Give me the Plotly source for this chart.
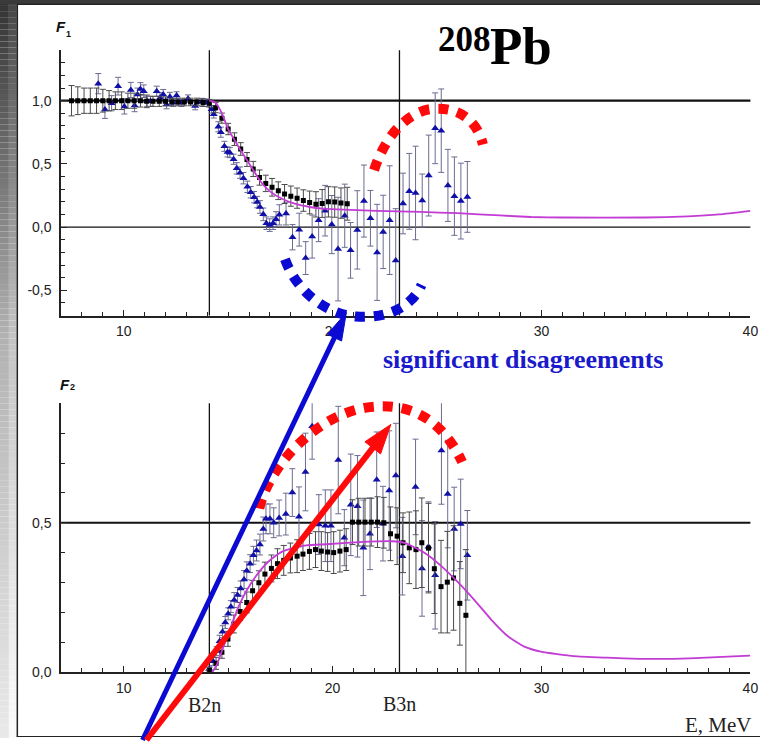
import plotly.graph_objects as go

# ---------------- data ----------------
# F1 panel, black squares
f1_black_E = [7.5, 7.8, 8.1, 8.4, 8.7, 9.0, 9.3, 9.6, 9.9, 10.2, 10.5, 10.8, 11.1, 11.4, 11.7,
              12.0, 12.3, 12.6, 12.9, 13.2, 13.5, 13.8, 14.1, 14.4, 14.7, 15.0, 15.3, 15.6,
              15.9, 16.2, 16.5, 16.8, 17.1, 17.4, 17.7, 18.0, 18.3, 18.6, 18.9, 19.2, 19.5,
              19.8, 20.1, 20.4, 20.7]
f1_black = [1.0, 1.0, 1.0, 1.0, 1.0, 1.0, 1.0, 1.0, 1.0, 1.0, 1.0, 1.0, 0.995, 0.995, 0.995,
            0.995, 0.99, 0.99, 0.99, 0.99, 0.99, 0.985, 0.98, 0.945, 0.862, 0.776, 0.696, 0.618,
            0.535, 0.46, 0.392, 0.346, 0.315, 0.288, 0.262, 0.245, 0.229, 0.21, 0.195, 0.18,
            0.187, 0.2, 0.198, 0.19, 0.185]
f1_black_err = [0.12, 0.11, 0.1, 0.1, 0.1, 0.09, 0.08, 0.07, 0.07, 0.06, 0.06, 0.05, 0.05, 0.04,
                0.04, 0.035, 0.03, 0.03, 0.03, 0.03, 0.03, 0.03, 0.03, 0.04, 0.04, 0.045, 0.05,
                0.05, 0.055, 0.06, 0.06, 0.065, 0.07, 0.07, 0.075, 0.08, 0.08, 0.085, 0.09, 0.1,
                0.11, 0.12, 0.12, 0.12, 0.13]

# F1 panel, blue triangles
f1_blue_E = [8.78, 9.10, 9.42, 9.73, 10.03, 10.34, 10.52, 10.66, 10.80, 10.96, 11.12, 11.28,
             11.58, 11.74, 11.89, 12.05, 12.21, 12.37, 12.53, 12.76, 13.08, 13.42, 13.74, 13.99,
             14.21, 14.31, 14.53, 14.65, 14.82, 14.97, 15.08, 15.26, 15.41, 15.57, 15.73, 15.92,
             16.08, 16.24, 16.39, 16.52, 16.68, 16.83, 16.99, 17.15, 17.29, 17.45, 17.77, 18.08,
             18.40, 18.71, 19.02, 19.33, 19.64, 19.96, 20.26, 20.58, 20.86, 21.18, 21.50, 21.81,
             22.13, 22.42, 22.73, 23.02, 23.37, 23.67, 23.97, 24.29, 24.60, 24.91, 25.20, 25.52,
             25.83, 26.14, 26.45]
f1_blue = [1.135, 0.93, 0.98, 1.115, 0.955, 1.085, 0.963, 1.05, 1.093, 1.075, 0.995, 0.995,
           1.075, 1.023, 1.049, 0.971, 1.031, 0.984, 1.041, 0.984, 1.016, 0.958, 0.989, 0.984,
           0.932, 0.893, 0.794, 0.751, 0.639, 0.595, 0.589, 0.537, 0.465, 0.431, 0.387, 0.319,
           0.276, 0.237, 0.198, 0.159, 0.101, 0.031, 0.016, 0.031, 0.062, 0.097, 0.107, -0.08,
           -0.02, -0.245, -0.075, 0.055, 0.13, 0.02, -0.174, 0.09, -0.184, -0.022, 0.206, 0.07,
           -0.2, -0.038, 0.055, -0.264, 0.187, 0.283, 0.27, 0.21, 0.408, 0.782, 0.763, 0.33,
           0.245, 0.206, 0.239]
f1_blue_err = [0.08, 0.07, 0.06, 0.07, 0.06, 0.06, 0.05, 0.05, 0.05, 0.05, 0.04, 0.04,
               0.04, 0.04, 0.04, 0.035, 0.035, 0.03, 0.03, 0.03, 0.03, 0.03, 0.03, 0.03,
               0.03, 0.03, 0.04, 0.04, 0.04, 0.04, 0.04, 0.04, 0.045, 0.045, 0.045, 0.045,
               0.045, 0.045, 0.045, 0.05, 0.05, 0.05, 0.05, 0.05, 0.06, 0.08, 0.09, 0.1,
               0.13, 0.13, 0.17, 0.17, 0.2, 0.23, 0.41, 0.25, 0.22, 0.31, 0.285, 0.22,
               0.38, 0.29, 0.43, 0.41, 0.24, 0.3, 0.37, 0.21, 0.32, 0.28, 0.33, 0.285,
               0.31, 0.3, 0.28]

# F1 theory curve (magenta)
f1_theory_E = [14.1, 14.4, 14.7, 15.0, 15.3, 15.6, 16.1, 16.55, 17.0, 17.65, 18.3, 18.9, 19.55,
               20.2, 22.1, 24.2, 26.0, 28.0, 29.5, 31.0, 35.0, 37.0, 38.5, 40.0]
f1_theory = [1.0, 0.985, 0.90, 0.776, 0.69, 0.607, 0.478, 0.361, 0.283, 0.218, 0.179, 0.159,
             0.146, 0.14, 0.128, 0.12, 0.11, 0.092, 0.08, 0.076, 0.076, 0.085, 0.1, 0.128]

# F2 panel, black squares
f2_black_E = [14.1, 14.42, 14.70, 14.99, 15.27, 15.57, 15.89, 16.17, 16.47, 16.76, 17.07, 17.36,
              17.66, 17.98, 18.30, 18.58, 18.89, 19.18, 19.46, 19.76, 20.05, 20.35, 20.65, 20.95,
              21.25, 21.55, 21.85, 22.15, 22.45, 22.77, 23.09, 23.37, 23.67, 23.99, 24.27, 24.59,
              24.87, 25.19, 25.49, 25.79, 26.09, 26.38]
f2_black = [0.005, 0.029, 0.066, 0.111, 0.161, 0.203, 0.233, 0.272, 0.299, 0.328, 0.347, 0.363,
            0.374, 0.382, 0.388, 0.395, 0.404, 0.41, 0.405, 0.402, 0.40, 0.405, 0.41, 0.502,
            0.502, 0.502, 0.502, 0.502, 0.50, 0.463, 0.455, 0.433, 0.416, 0.41, 0.433, 0.415,
            0.346, 0.286, 0.301, 0.315, 0.23, 0.19]
f2_black_err = [0.01, 0.02, 0.02, 0.025, 0.03, 0.03, 0.035, 0.035, 0.04, 0.04, 0.045, 0.05,
                0.05, 0.05, 0.055, 0.055, 0.06, 0.06, 0.065, 0.065, 0.07, 0.07, 0.07, 0.075,
                0.08, 0.08, 0.08, 0.085, 0.085, 0.09, 0.095, 0.1, 0.12, 0.13, 0.15, 0.15,
                0.15, 0.155, 0.17, 0.175, 0.14, 0.22]

# F2 panel, blue triangles
f2_blue_E = [14.1, 14.28, 14.45, 14.59, 14.73, 14.86, 15.00, 15.13, 15.29, 15.45, 15.60, 15.76,
             15.89, 16.05, 16.21, 16.36, 16.52, 16.68, 16.81, 17.0, 17.18, 17.44, 17.76, 18.07,
             18.39, 18.70, 19.02, 19.34, 19.65, 19.92, 20.27, 20.56, 20.87, 21.19, 21.47, 21.79,
             22.11, 22.41, 22.71, 23.03, 23.34, 23.97, 24.28, 24.59, 24.91, 25.21, 25.51, 25.82,
             26.13, 26.45]
f2_blue = [0.01, 0.036, 0.07, 0.103, 0.135, 0.166, 0.195, 0.219, 0.241, 0.258, 0.28, 0.31,
           0.339, 0.363, 0.391, 0.407, 0.427, 0.479, 0.513, 0.513, 0.50, 0.516, 0.529, 0.601,
           0.52, 0.67, 0.823, 0.494, 0.49, 0.49, 0.71, 0.45, 0.56, 0.555, 0.416, 0.463,
           0.644, 0.497, 0.608, 0.658, 0.388, 0.62, 0.347, 0.42, 0.324, 0.742, 0.596, 0.479,
           0.496, 0.391]
f2_blue_err = [0.01, 0.015, 0.015, 0.02, 0.02, 0.02, 0.02, 0.02, 0.025, 0.025, 0.025, 0.03,
               0.03, 0.03, 0.03, 0.035, 0.035, 0.04, 0.05, 0.05, 0.05, 0.06, 0.07, 0.08,
               0.1, 0.13, 0.11, 0.1, 0.12, 0.12, 0.18, 0.094, 0.17, 0.17, 0.16, 0.12,
               0.16, 0.125, 0.2, 0.175, 0.13, 0.16, 0.16, 0.15, 0.18, 0.18, 0.18, 0.14,
               0.15, 0.15]

# F2 theory curve (magenta)
f2_theory_E = [14.25, 14.46, 14.78, 15.1, 15.5, 15.89, 16.3, 16.68, 17.1, 17.63, 18.2, 18.74,
               19.7, 21.27, 22.85, 23.48, 24.43, 25.22, 26.01, 26.8, 27.6, 28.39, 29.18, 29.97,
               31.55, 33.13, 34.71, 36.3, 37.88, 39.98]
f2_theory = [0.0, 0.025, 0.086, 0.147, 0.22, 0.274, 0.318, 0.352, 0.38, 0.405, 0.416, 0.424,
             0.428, 0.435, 0.438, 0.432, 0.398, 0.354, 0.30, 0.24, 0.175, 0.12, 0.085, 0.068,
             0.053, 0.048, 0.044, 0.044, 0.048, 0.055]

# thresholds (MeV)
B2n = 14.1
B3n = 23.2

x_ticks = [10, 20, 30, 40]
f1_ticks = [-0.5, 0.0, 0.5, 1.0]
f1_ticktext = ["-0,5", "0,0", "0,5", "1,0"]
f2_ticks = [0.0, 0.5]
f2_ticktext = ["0,0", "0,5"]

# ---------------- figure ----------------
W, H = 768, 746


def P(px, py):
    return px / W, 1 - py / H


BLUE_MK = "#1010a8"
BLUE_ERR = "#6c6c92"
BLACK_ERR = "#4a4a4a"
MAGENTA = "#c23bd4"

fig = go.Figure()


def add_panel(xa, ya, bE, b, be, uE, u, ue, tE, t):
    fig.add_trace(go.Scatter(x=uE, y=u, mode="markers", xaxis=xa, yaxis=ya,
                             marker=dict(symbol="triangle-up", size=7, color=BLUE_MK),
                             error_y=dict(type="data", array=ue, color=BLUE_ERR, thickness=1, width=3),
                             showlegend=False, hoverinfo="skip"))
    fig.add_trace(go.Scatter(x=bE, y=b, mode="markers", xaxis=xa, yaxis=ya,
                             marker=dict(symbol="square", size=5, color="black"),
                             error_y=dict(type="data", array=be, color=BLACK_ERR, thickness=1, width=3),
                             showlegend=False, hoverinfo="skip"))
    fig.add_trace(go.Scatter(x=tE, y=t, mode="lines", xaxis=xa, yaxis=ya,
                             line=dict(color=MAGENTA, width=1.8, shape="spline", smoothing=0.5),
                             showlegend=False, hoverinfo="skip"))


add_panel("x", "y", f1_black_E, f1_black, f1_black_err, f1_blue_E, f1_blue, f1_blue_err,
          f1_theory_E, f1_theory)
add_panel("x2", "y2", f2_black_E, f2_black, f2_black_err, f2_blue_E, f2_blue, f2_blue_err,
          f2_theory_E, f2_theory)

xdom = [61.7 / W, 758.3 / W]
ydom1 = [1 - 319 / H, 1 - 50.7 / H]
ydom2 = [1 - 679.3 / H, 1 - 407.7 / H]

tickfont = dict(family="Liberation Sans, Arial, sans-serif", size=14, color="#222")
axcommon = dict(showline=True, linecolor="#222", linewidth=1.5, showgrid=False, zeroline=False,
                ticks="inside", ticklen=6, tickwidth=1, tickcolor="#222", tickfont=tickfont,
                fixedrange=True)

xax = dict(axcommon, domain=xdom, range=[7, 40], tickmode="array", tickvals=x_ticks,
           ticktext=[str(v) for v in x_ticks], ticklabelstandoff=2,
           minor=dict(tickmode="linear", tick0=0, dtick=1, ticks="inside", ticklen=4,
                      tickcolor="#222", tickwidth=1))

fig.update_layout(
    width=W, height=H, margin=dict(l=0, r=0, t=0, b=0),
    paper_bgcolor="white", plot_bgcolor="rgba(0,0,0,0)",
    showlegend=False,
    xaxis=dict(xax, anchor="y"),
    xaxis2=dict(xax, anchor="y2"),
    yaxis=dict(axcommon, domain=ydom1, range=[-0.7, 1.4], anchor="x", tickmode="array",
               tickvals=f1_ticks, ticktext=f1_ticktext, ticklabelstandoff=5,
               minor=dict(tickmode="linear", tick0=0, dtick=0.1, ticks="inside", ticklen=4,
                          tickcolor="#222", tickwidth=1)),
    yaxis2=dict(axcommon, domain=ydom2, range=[0, 0.9], anchor="x2", tickmode="array",
                tickvals=f2_ticks, ticktext=f2_ticktext, ticklabelstandoff=5,
                minor=dict(tickmode="linear", tick0=0, dtick=0.1, ticks="inside", ticklen=4,
                           tickcolor="#222", tickwidth=1)),
)

shapes = []

# ---- slide background frame ----
def grey(v):
    v = int(max(0, min(255, v)))
    return f"rgb({v},{v},{v})"


step = 6
for y0 in range(0, H, step):
    t = y0 / H
    if t < 0.45:
        v = 52 + (178 - 52) * t / 0.45
    else:
        v = 178 + (234 - 178) * (t - 0.45) / 0.55
    for (xa0, xa1, dv) in [(0, 9, 0), (9, 17, 18)]:
        a0, b0 = P(xa0, y0)
        a1, b1 = P(xa1, min(H, y0 + step))
        shapes.append(dict(type="rect", xref="paper", yref="paper", x0=a0, x1=a1, y0=b1, y1=b0,
                           fillcolor=grey(v + dv), line=dict(width=0), layer="below"))

a0, b0 = P(0, 0)
a1, b1 = P(W, 4)
shapes.append(dict(type="rect", xref="paper", yref="paper", x0=a0, x1=a1, y0=b1, y1=b0,
                   fillcolor="#3a3a3a", line=dict(width=0), layer="below"))
for (p0, p1, w) in [((17, 4.5), (W, 4.5), 1.2), ((17.5, 4), (17.5, 745), 1.5),
                    ((17, 744.5), (W, 744.5), 1.2)]:
    q0 = P(*p0)
    q1 = P(*p1)
    shapes.append(dict(type="line", xref="paper", yref="paper", x0=q0[0], y0=q0[1], x1=q1[0],
                       y1=q1[1], line=dict(color="#222", width=w), layer="below"))

# ---- reference lines ----
for xr, yr in [("x", "y"), ("x2", "y2")]:
    for e in (B2n, B3n):
        shapes.append(dict(type="line", xref=xr, yref=yr + " domain", x0=e, x1=e, y0=0, y1=1,
                           line=dict(color="#111", width=1.3), layer="below"))
shapes.append(dict(type="line", xref="x domain", yref="y", x0=0, x1=1, y0=1.0, y1=1.0,
                   line=dict(color="#111", width=2.2), layer="below"))
shapes.append(dict(type="line", xref="x domain", yref="y", x0=0, x1=1, y0=0.0, y1=0.0,
                   line=dict(color="#111", width=1.3), layer="below"))
shapes.append(dict(type="line", xref="x2 domain", yref="y2", x0=0, x1=1, y0=0.5, y1=0.5,
                   line=dict(color="#111", width=2.2), layer="below"))


# ---- hand-drawn highlight marks (pixel layout) ----
def bez_path(pts):
    s = "M {:.5f},{:.5f}".format(*P(*pts[0]))
    rest = pts[1:]
    for i in range(0, len(rest), 3):
        c = [P(*q) for q in rest[i:i + 3]]
        s += " C {:.5f},{:.5f} {:.5f},{:.5f} {:.5f},{:.5f}".format(c[0][0], c[0][1], c[1][0],
                                                                  c[1][1], c[2][0], c[2][1])
    return s


RED = "#ff0a0a"
BLUE = "#0a0ad2"
arcs = [
    ([(378, 172), (390, 135), (415, 110), (440, 110), (465, 109), (482, 122), (488, 146)], RED),
    ([(288, 262), (300, 295), (330, 318), (360, 320), (390, 322), (415, 312), (426, 288)], BLUE),
    ([(262, 514), (272, 470), (320, 420), (370, 412), (410, 406), (445, 420), (467, 467)], RED),
]
for pts, col in arcs:
    shapes.append(dict(type="path", xref="paper", yref="paper", path=bez_path(pts),
                       line=dict(color=col, width=10, dash="10px,9px"), layer="above"))


def arrow(start, tip, col, lw, hl, hw):
    import math
    dx, dy = tip[0] - start[0], tip[1] - start[1]
    L = math.hypot(dx, dy)
    ux, uy = dx / L, dy / L
    nx, ny = -uy, ux
    bx, by = tip[0] - hl * ux, tip[1] - hl * uy
    s0 = P(*start)
    s1 = P(bx + 2 * ux, by + 2 * uy)
    shapes.append(dict(type="line", xref="paper", yref="paper", x0=s0[0], y0=s0[1], x1=s1[0],
                       y1=s1[1], line=dict(color=col, width=lw), layer="above"))
    c1 = P(bx + hw * nx, by + hw * ny)
    c2 = P(bx - hw * nx, by - hw * ny)
    tp = P(*tip)
    path = "M {:.5f},{:.5f} L {:.5f},{:.5f} L {:.5f},{:.5f} Z".format(tp[0], tp[1], c1[0], c1[1],
                                                                     c2[0], c2[1])
    shapes.append(dict(type="path", xref="paper", yref="paper", path=path, fillcolor=col,
                       line=dict(color=col, width=1), layer="above"))


arrow((144, 748), (350, 316), BLUE, 5, 28, 8)
arrow((148, 748), (395, 429), RED, 6, 30, 10)

fig.update_layout(shapes=shapes)

# ---- texts ----
SERIF = "Liberation Serif, Times New Roman, serif"
SANS = "Liberation Sans, Arial, sans-serif"
texts = [
    ("<b><i>F</i></b>", 62, 27, SANS, 15, "#111"),
    ("<b>1</b>", 69.5, 34.5, SANS, 9, "#111"),
    ("<b><i>F</i></b>", 66, 389, SANS, 15, "#111"),
    ("<b>2</b>", 73.5, 391, SANS, 9, "#111"),
    ("<b>208</b>", 469, 40, SERIF, 35, "#000"),
    ("<b>Pb</b>", 526, 47, SERIF, 53, "#000"),
    ("<b>significant disagreements</b>", 528, 363, SERIF, 26, "#1a1acc"),
    ("B2n", 207, 713, SERIF, 20, "#222"),
    ("B3n", 404, 711.5, SERIF, 20, "#222"),
    ("E, MeV", 726, 732.5, SERIF, 21, "#222"),
]
anns = []
for txt, px, py, fam, sz, col in texts:
    ax, ay = P(px, py)
    anns.append(dict(text=txt, x=ax, y=ay, xref="paper", yref="paper", xanchor="center",
                     yanchor="middle", showarrow=False, font=dict(family=fam, size=sz, color=col)))
fig.update_layout(annotations=anns)

fig.write_html("out.html")
